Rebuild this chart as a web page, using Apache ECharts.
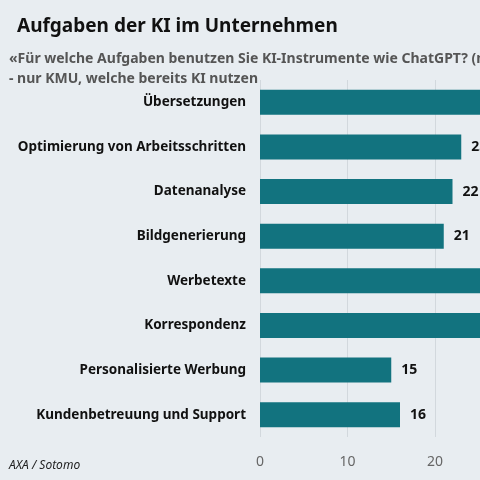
<!DOCTYPE html>
<html>
<head>
<meta charset="utf-8">
<script src="https://cdn.jsdelivr.net/npm/echarts@6/dist/echarts.min.js"></script>
<style>
  html, body { margin: 0; padding: 0; background: #e8edf1; }
  #chart { width: 480px; height: 480px; }
</style>
</head>
<body>
<div id="chart"></div>
<script>
const categories = [
    'Übersetzungen', 'Optimierung von Arbeitsschritten', 'Datenanalyse', 'Bildgenerierung',
    'Werbetexte', 'Korrespondenz', 'Personalisierte Werbung', 'Kundenbetreuung und Support'
];
const values = [38, 23, 22, 21, 29, 27, 15, 16];
const tickValues = [0, 10, 20, 30, 40, 50];

const font = '"Source Sans Pro", "Noto Sans", sans-serif';
const chart = echarts.init(document.getElementById('chart'));
chart.setOption({
    backgroundColor: '#e8edf1',
    animation: false,
    title: [
        { text: 'Aufgaben der KI im Unternehmen', left: 12, top: 12,
          textStyle: { fontFamily: font, fontSize: 19, fontWeight: 'bold', color: '#111' } },
        { text: '«Für welche Aufgaben benutzen Sie KI-Instrumente wie ChatGPT? (m\n- nur KMU, welche bereits KI nutzen',
          left: 4, top: 44,
          textStyle: { fontFamily: font, fontSize: 14, fontWeight: 'bold', color: '#555', lineHeight: 20 } },
        { text: 'AXA / Sotomo', left: 4, top: 455,
          textStyle: { fontFamily: font, fontSize: 12, fontStyle: 'italic', fontWeight: 'normal', color: '#222' } }
    ],
    grid: { left: 260, top: 80, width: 437.5, height: 357, containLabel: false, outerBoundsMode: 'none' },
    xAxis: {
        type: 'value', min: 0, max: 50, interval: 10,
        axisLine: { show: false }, axisTick: { show: false },
        splitLine: { lineStyle: { color: '#d2d8dd' } },
        axisLabel: { fontFamily: font, fontSize: 14, color: '#666', margin: 18,
            formatter: v => tickValues.includes(v) ? String(v) : '' }
    },
    yAxis: {
        type: 'category', data: categories, inverse: true,
        axisLine: { show: false }, axisTick: { show: false },
        axisLabel: { fontFamily: font, fontSize: 13.5, fontWeight: 'bold', color: '#111', margin: 14 }
    },
    series: [{
        type: 'bar', data: values, barWidth: 25,
        itemStyle: { color: '#12737f' },
        label: { show: true, position: 'right', distance: 10,
            fontFamily: font, fontSize: 14, fontWeight: 'bold', color: '#111' }
    }]
});
</script>
</body>
</html>
